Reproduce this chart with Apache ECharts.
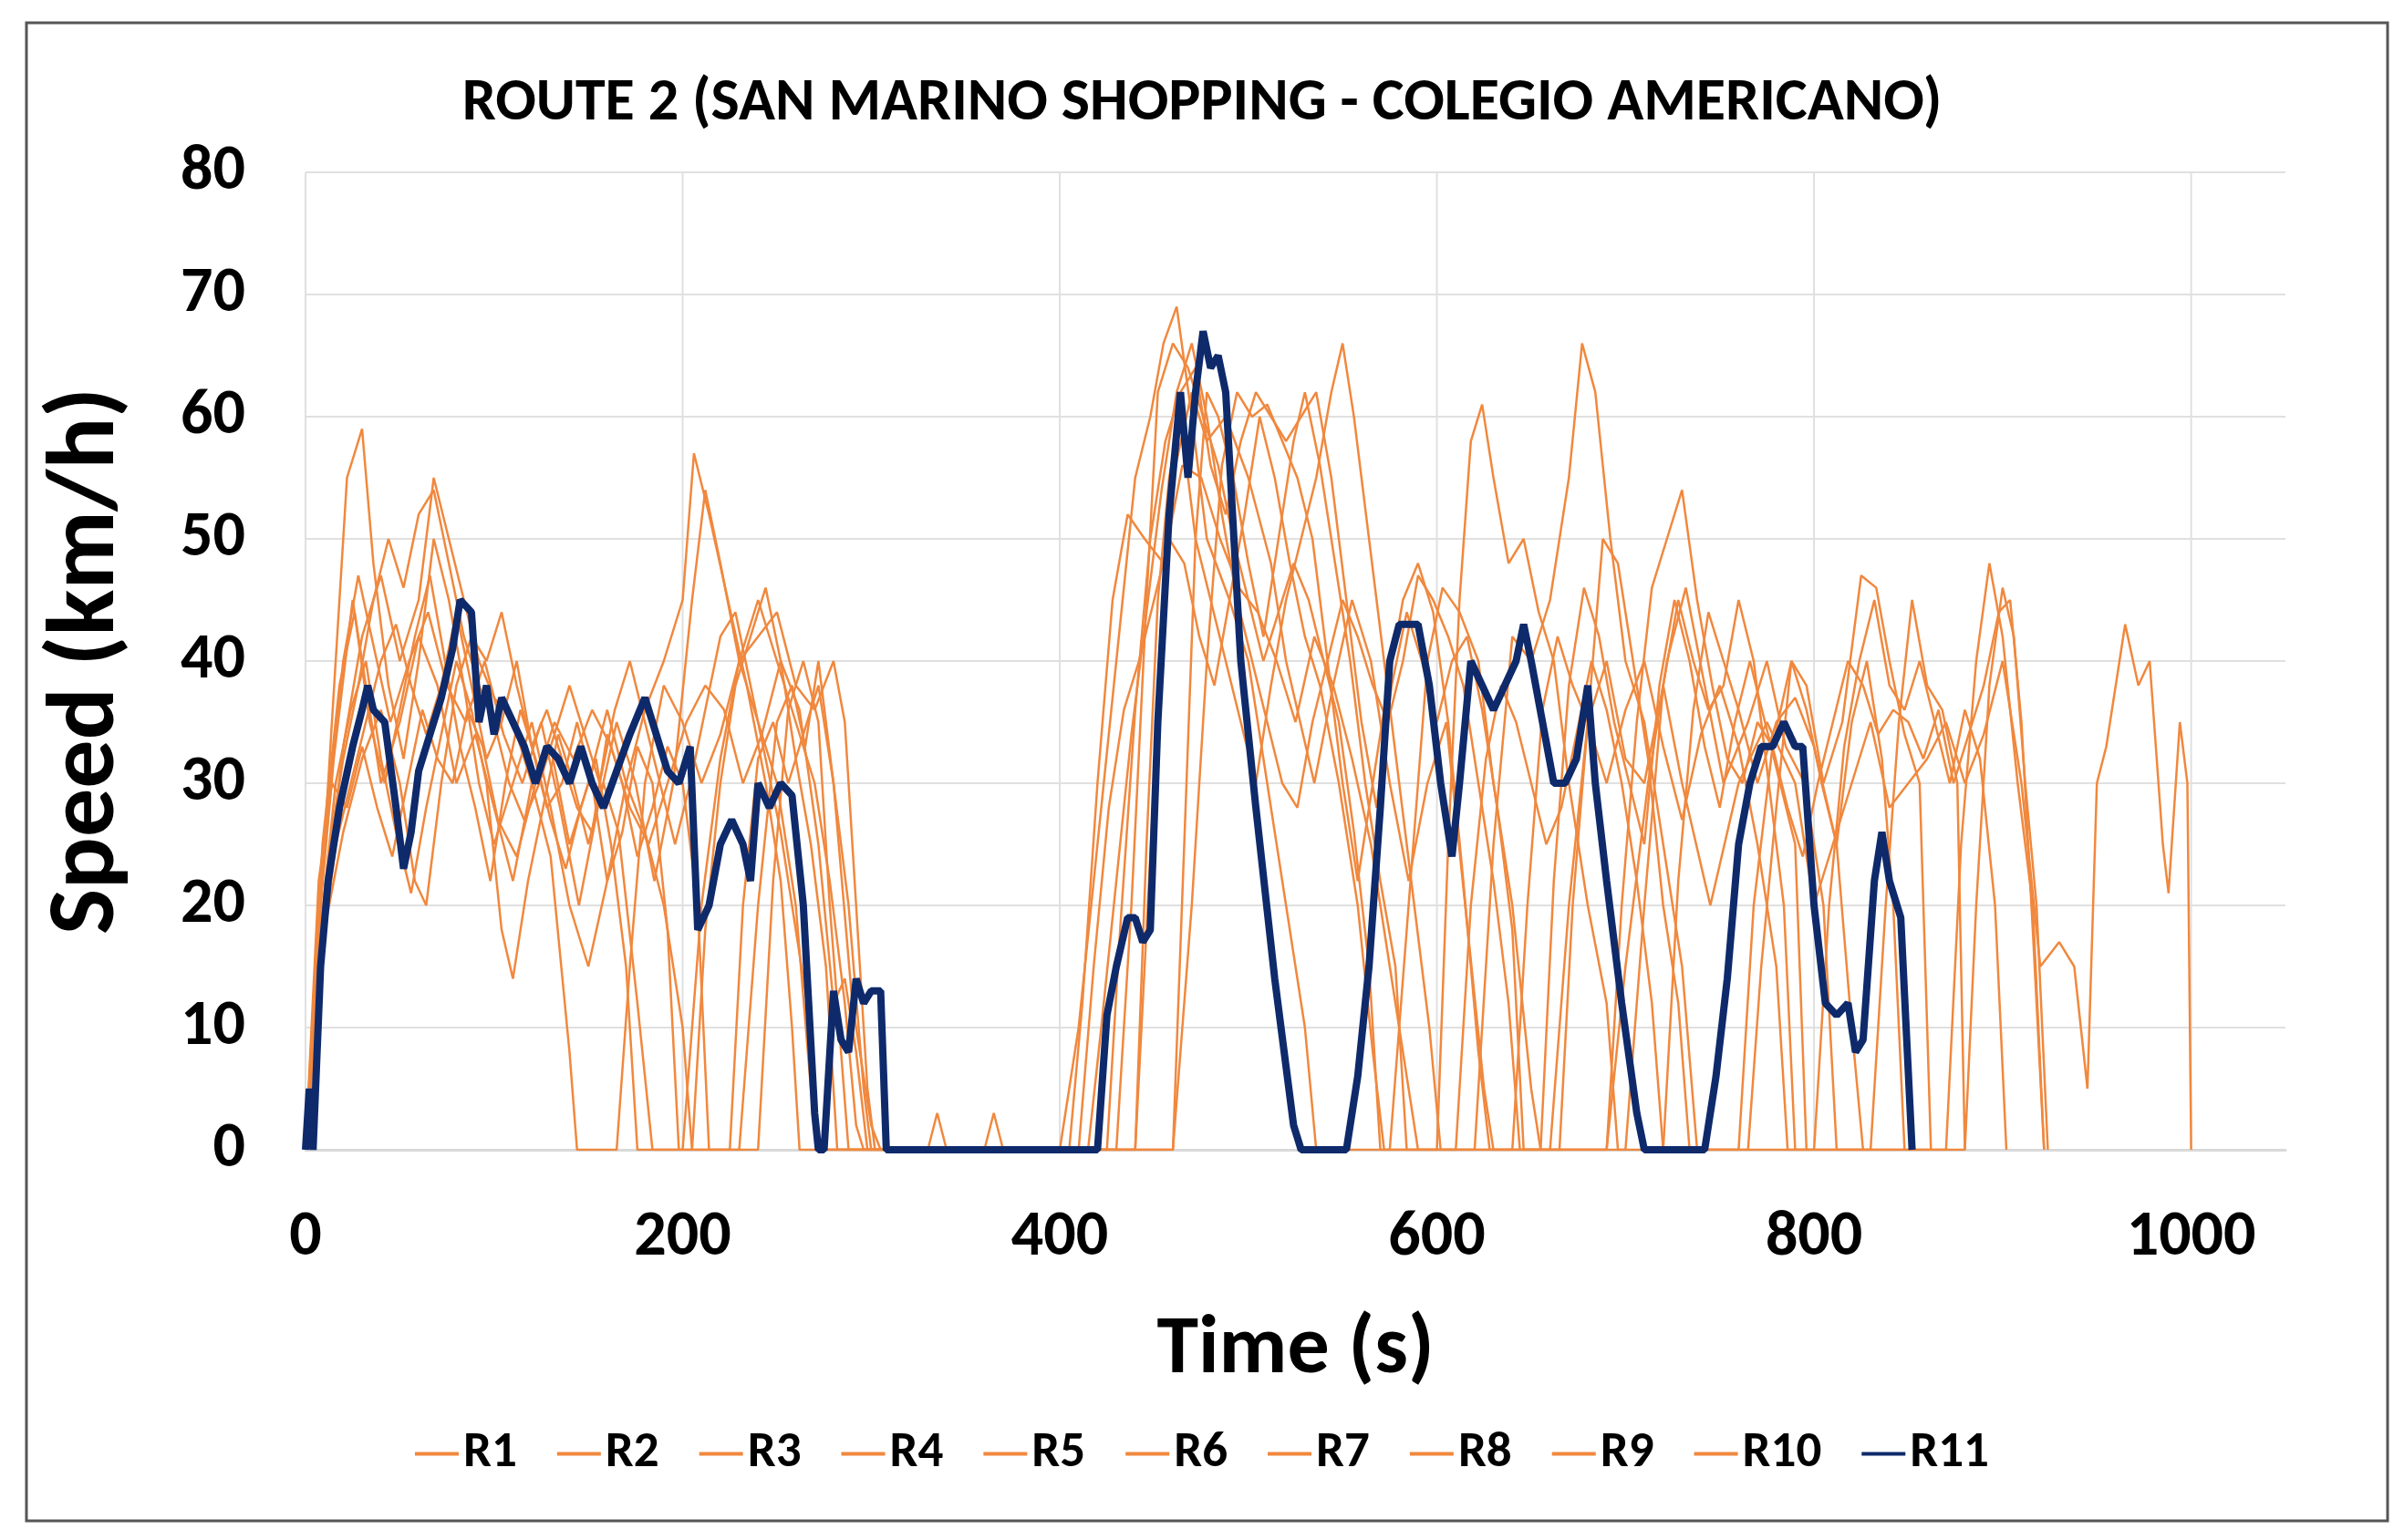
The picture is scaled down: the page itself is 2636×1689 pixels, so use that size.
<!DOCTYPE html>
<html><head><meta charset="utf-8">
<script src="https://cdn.jsdelivr.net/npm/echarts@6/dist/echarts.min.js"></script>
<style>html,body{margin:0;padding:0;background:#fff}#c{width:2636px;height:1689px}</style>
</head><body><div id="c"></div>
<script>
const seriesNames = ['R1','R2','R3','R4','R5','R6','R7','R8','R9','R10','R11'];
const R1 = [[0,0],[8,20],[15,32],[25,45],[32,38],[40,30],[50,35],[60,42],[70,38],[80,30],[90,34],[100,28],[110,22],[120,30],[130,33],[140,25],[150,30],[160,36],[170,30],[180,26],[190,20],[200,10],[205,0],[230,0],[240,20],[250,35],[258,38],[265,33],[272,40],[280,30],[290,12],[300,2],[305,0],[440,0],[450,30],[460,55],[470,62],[478,58],[488,60],[500,55],[512,48],[520,40],[535,30],[545,38],[555,45],[565,40],[575,30],[585,22],[595,30],[605,35],[615,20],[625,5],[630,0],[660,0],[670,20],[680,35],[690,40],[700,32],[710,30],[720,38],[730,30],[745,20],[760,30],[775,35],[790,30],[800,20],[810,25],[820,30],[830,35],[840,28],[850,30],[860,32],[870,35],[880,30],[890,34],[900,40],[910,30],[920,15],[930,17],[938,15],[945,5],[950,30],[955,33],[965,43],[972,38],[978,40],[985,25],[988,21],[994,35],[998,30],[1000,0]];
const R2 = [[0,0],[10,25],[20,40],[28,47],[35,42],[45,35],[55,40],[65,44],[75,38],[85,35],[95,40],[105,34],[115,30],[125,35],[135,28],[145,20],[155,28],[165,35],[175,30],[185,22],[195,30],[205,45],[212,54],[220,48],[230,40],[240,35],[250,30],[260,20],[268,5],[272,0],[400,0],[410,10],[420,25],[430,40],[440,55],[448,60],[455,66],[462,69],[470,60],[478,50],[490,45],[500,40],[510,30],[520,20],[530,10],[536,0],[575,0],[585,20],[595,40],[603,46],[612,44],[622,40],[630,30],[640,20],[650,5],[655,0],[690,0],[700,15],[712,30],[722,40],[732,46],[742,38],[752,30],[765,35],[775,40],[785,33],[795,30],[805,20],[812,0],[830,0],[838,20],[845,35],[852,45],[860,38],[868,36],[876,30],[880,0]];
const R3 = [[0,0],[6,15],[14,35],[22,55],[30,59],[36,48],[44,38],[52,32],[60,40],[68,50],[76,45],[84,38],[92,30],[100,25],[110,30],[120,35],[130,28],[140,20],[150,15],[160,22],[170,30],[180,36],[190,40],[200,45],[206,57],[214,52],[224,45],[234,38],[244,30],[252,22],[258,10],[262,0],[405,0],[412,12],[420,30],[428,45],[436,52],[445,50],[455,48],[465,56],[475,55],[485,50],[495,46],[505,44],[515,40],[525,35],[535,42],[545,38],[555,32],[565,25],[575,15],[585,5],[590,0],[620,0],[630,25],[640,42],[650,40],[660,45],[670,55],[677,66],[684,62],[692,50],[700,40],[710,35],[720,25],[730,15],[738,0],[760,0],[768,20],[778,33],[788,40],[796,38],[805,30],[815,35],[825,47],[833,46],[840,40],[848,34],[856,30],[862,0]];
const R4 = [[0,0],[8,18],[16,30],[24,36],[32,40],[40,32],[48,26],[56,21],[64,28],[72,34],[80,40],[88,36],[96,30],[104,18],[110,14],[118,22],[126,28],[134,34],[142,30],[150,25],[158,30],[166,26],[176,12],[184,0],[200,0],[210,20],[220,32],[230,40],[240,42],[250,44],[260,38],[270,36],[280,40],[286,35],[292,20],[298,5],[302,0],[460,0],[470,20],[478,40],[486,56],[494,62],[502,60],[510,61],[518,58],[526,55],[534,50],[542,40],[550,30],[558,22],[566,30],[574,38],[582,45],[590,48],[598,44],[606,35],[614,22],[622,8],[628,0],[700,0],[710,20],[720,38],[728,45],[736,40],[744,36],[752,38],[760,45],[768,40],[776,30],[784,20],[790,0],[870,0],[878,25],[886,40],[893,48],[900,42],[908,30],[916,20],[922,0]];
const R5 = [[0,0],[10,20],[20,33],[30,42],[40,47],[50,40],[60,45],[68,55],[76,50],[84,45],[92,40],[100,37],[110,35],[120,30],[130,24],[140,8],[144,0],[165,0],[172,15],[180,30],[190,38],[200,35],[210,30],[220,34],[230,40],[240,45],[250,40],[260,35],[270,30],[278,22],[286,12],[292,2],[296,0],[430,0],[438,20],[446,45],[452,62],[460,66],[468,64],[476,60],[484,56],[492,50],[500,45],[508,40],[516,44],[524,48],[532,45],[540,40],[548,35],[556,26],[564,15],[570,0],[600,0],[606,25],[612,45],[618,58],[624,61],[630,55],[638,48],[646,50],[654,44],[662,40],[670,30],[680,20],[690,12],[696,0],[720,0],[728,22],[736,36],[744,44],[752,40],[760,36],[770,30],[780,35],[790,37],[800,33],[812,25],[820,10],[826,0]];
const R6 = [[0,0],[7,22],[14,30],[22,28],[30,33],[38,28],[46,24],[54,30],[62,36],[70,32],[78,30],[86,36],[94,33],[102,27],[112,24],[122,30],[132,35],[142,32],[152,36],[162,33],[172,28],[182,25],[192,30],[202,35],[212,38],[222,36],[232,30],[242,34],[252,40],[262,36],[272,25],[280,12],[286,14],[292,8],[298,0],[330,0],[335,3],[340,0],[360,0],[365,3],[370,0],[410,0],[418,15],[426,28],[434,36],[442,40],[450,45],[458,50],[466,48],[474,42],[482,38],[490,45],[498,52],[506,60],[514,55],[522,48],[530,42],[538,38],[548,30],[558,20],[566,8],[572,0],[640,0],[648,20],[656,36],[664,42],[672,38],[680,35],[690,30],[700,36],[710,40],[720,33],[730,27],[740,34],[750,38],[760,33],[770,25],[780,15],[786,0],[880,0],[886,20],[893,38],[900,46],[906,42],[912,30],[918,20],[924,0]];
const R7 = [[0,0],[9,25],[18,38],[26,44],[34,35],[42,30],[50,36],[58,42],[66,47],[74,40],[82,33],[90,28],[98,22],[106,30],[114,36],[122,32],[130,27],[138,23],[146,28],[154,32],[162,25],[170,15],[176,0],[205,0],[212,18],[220,30],[228,38],[236,42],[244,46],[252,40],[260,32],[268,25],[276,15],[282,0],[425,0],[432,18],[440,36],[448,50],[456,58],[464,62],[472,64],[480,56],[488,52],[496,58],[504,62],[512,60],[520,58],[528,60],[536,62],[544,55],[552,45],[560,35],[568,28],[576,38],[584,44],[592,40],[600,35],[608,40],[616,42],[624,36],[632,28],[640,18],[646,0],[665,0],[672,20],[680,35],[688,50],[696,48],[704,40],[712,32],[720,20],[728,12],[734,0],[765,0],[772,15],[780,28],[788,40],[796,36],[804,30],[812,25],[820,35],[828,40],[836,32],[842,20],[848,0]];
const R8 = [[0,0],[8,15],[16,25],[24,30],[32,35],[40,40],[48,43],[56,38],[64,34],[72,38],[80,44],[88,38],[96,32],[104,35],[112,40],[120,33],[128,28],[136,30],[144,35],[152,30],[160,22],[168,26],[176,33],[184,30],[192,18],[198,0],[225,0],[232,20],[240,32],[248,35],[256,30],[264,34],[272,38],[280,30],[288,20],[296,5],[300,0],[440,0],[446,25],[452,45],[458,55],[464,60],[472,50],[480,45],[488,40],[496,35],[504,30],[512,38],[520,45],[528,50],[536,55],[544,62],[550,66],[556,60],[564,50],[572,40],[580,30],[588,20],[596,10],[602,0],[690,0],[698,20],[706,35],[714,46],[722,50],[730,54],[738,45],[746,38],[754,32],[762,30],[770,35],[778,33],[786,28],[794,24],[802,30],[810,35],[818,40],[826,38],[834,34],[842,36],[850,35],[858,32],[866,36],[874,30],[882,34],[890,38],[898,44],[904,45],[910,35],[916,18],[922,0]];
const R9 = [[0,0],[10,18],[20,26],[30,32],[40,36],[50,30],[58,22],[64,20],[72,30],[80,38],[88,42],[96,40],[104,44],[112,38],[120,33],[128,36],[136,32],[144,28],[152,26],[160,34],[168,30],[176,24],[184,28],[192,33],[200,30],[208,20],[214,0],[240,0],[248,22],[256,36],[264,40],[272,35],[278,20],[284,8],[288,0],[415,0],[422,10],[430,22],[438,34],[446,44],[454,54],[462,62],[470,66],[478,60],[486,52],[494,45],[502,40],[510,35],[518,30],[526,28],[534,35],[542,40],[550,45],[558,42],[566,38],[574,35],[582,40],[590,47],[598,45],[606,42],[614,38],[622,30],[630,22],[638,12],[644,0],[655,0],[662,22],[670,38],[678,46],[686,42],[694,35],[702,30],[710,25],[718,38],[726,45],[734,40],[742,33],[750,28],[758,35],[766,40],[774,35],[782,30],[790,25],[796,0]];
const R10 = [[0,0],[6,12],[12,24],[20,32],[28,38],[36,45],[44,50],[52,46],[60,52],[68,54],[76,48],[84,42],[92,38],[100,35],[108,30],[116,27],[124,30],[132,34],[140,38],[148,34],[156,30],[164,36],[172,40],[180,35],[188,30],[196,25],[204,30],[212,36],[220,42],[228,44],[236,38],[244,32],[252,26],[260,18],[268,10],[272,0],[460,0],[466,25],[472,50],[478,62],[484,60],[492,55],[500,48],[508,42],[516,50],[524,58],[530,62],[538,56],[546,48],[554,40],[562,30],[570,22],[578,15],[584,0],[610,0],[618,20],[626,32],[634,38],[642,35],[650,30],[658,25],[666,28],[674,34],[682,40],[690,36],[698,30],[706,22],[714,12],[720,0],[800,0],[808,20],[816,33],[824,40],[832,45],[840,38],[848,36],[856,40],[864,35],[872,30],[880,36],[888,32],[896,20],[902,0]];
const R11 = [[0,0],[2,5],[4,0],[8,15],[12,22],[18,28],[25,33],[30,36],[33,38],[36,36],[42,35],[48,28],[52,23],[56,26],[60,31],[66,34],[72,37],[78,41],[82,45],[88,44],[92,35],[96,38],[100,34],[104,37],[110,35],[116,33],[122,30],[128,33],[134,32],[140,30],[146,33],[152,30],[158,28],[165,31],[172,34],[180,37],[186,34],[192,31],[198,30],[204,33],[208,18],[214,20],[220,25],[226,27],[232,25],[236,22],[240,30],[246,28],[252,30],[258,29],[264,20],[270,3],[272,0],[275,0],[280,13],[284,9],[288,8],[292,14],[296,12],[300,13],[305,13],[308,0],[420,0],[425,11],[430,15],[436,19],[440,19],[444,17],[448,18],[452,35],[458,52],[464,62],[468,55],[472,62],[476,67],[480,64],[484,65],[488,62],[496,40],[504,28],[514,14],[524,2],[528,0],[552,0],[558,6],[564,15],[570,28],[575,40],[580,43],[590,43],[596,38],[602,30],[608,24],[612,30],[618,40],[624,38],[630,36],[636,38],[642,40],[646,43],[650,40],[656,35],[662,30],[668,30],[674,32],[680,38],[684,30],[690,22],[698,12],[706,3],[710,0],[742,0],[748,6],[754,14],[760,25],[766,30],[772,33],[778,33],[784,35],[790,33],[794,33],[800,20],[806,12],[812,11],[818,12],[822,8],[826,9],[832,22],[836,26],[840,22],[846,19],[852,0]];
const allData = [R1,R2,R3,R4,R5,R6,R7,R8,R9,R10,R11];
const xTicks = [0,200,400,600,800,1000];

const chart = echarts.init(document.getElementById('c'));
const F = 'Calibri, Carlito, "Open Sans", "Noto Sans", sans-serif';
chart.setOption({
  backgroundColor:'#fff',
  animation:false,
  title:{text:'ROUTE 2 (SAN MARINO SHOPPING - COLEGIO AMERICANO)',left:'center',top:76,
    textStyle:{fontFamily:F,fontSize:66,fontWeight:'bold',color:'#000'}},
  legend:{bottom:62,left:'center',itemWidth:48,itemHeight:4,itemGap:44,icon:'rect',
    textStyle:{fontFamily:F,fontSize:55,fontWeight:'bold',color:'#000'},data:seriesNames},
  grid:{left:335,right:130,top:189,bottom:428},
  xAxis:{type:'value',min:0,max:1050,interval:50,
    name:'Time (s)',nameLocation:'middle',nameGap:175,
    nameTextStyle:{fontFamily:F,fontSize:92,fontWeight:'bold',color:'#000'},
    axisLine:{show:true,lineStyle:{color:'#d9d9d9',width:3}},axisTick:{show:false},
    axisLabel:{margin:62,fontFamily:F,fontSize:70,fontWeight:'bold',color:'#000',
      formatter:v=>xTicks.includes(v)?String(v):''},
    splitLine:{show:false}},
  yAxis:{type:'value',min:0,max:80,interval:10,
    name:'Speed (km/h)',nameLocation:'middle',nameGap:185,
    nameTextStyle:{fontFamily:F,fontSize:106,fontWeight:'bold',color:'#000'},
    axisLine:{show:false},axisTick:{show:false},
    axisLabel:{margin:66,fontFamily:F,fontSize:70,fontWeight:'bold',color:'#000'},
    splitLine:{lineStyle:{color:'#e0e0e0',width:2}}},
  series: seriesNames.map((n,i)=>({
    name:n,type:'line',data:allData[i],showSymbol:false,symbol:'none',
    z:i===10?10:2,
    lineStyle:{color:i===10?'#0e2a6b':'#f0883e',width:i===10?8:2.5},
    itemStyle:{color:i===10?'#0e2a6b':'#f0883e'}
  }))
});
const g=[];
xTicks.forEach(v=>{
  const p1=chart.convertToPixel({gridIndex:0},[v,0]);
  const p2=chart.convertToPixel({gridIndex:0},[v,80]);
  g.push({type:'line',z:-1,shape:{x1:p1[0],y1:p1[1],x2:p2[0],y2:p2[1]},style:{stroke:'#e0e0e0',lineWidth:2}});
});
g.push({type:'rect',shape:{x:29,y:25,width:2589,height:1643},style:{fill:'none',stroke:'#555',lineWidth:3}});
chart.setOption({graphic:g});
</script></body></html>
